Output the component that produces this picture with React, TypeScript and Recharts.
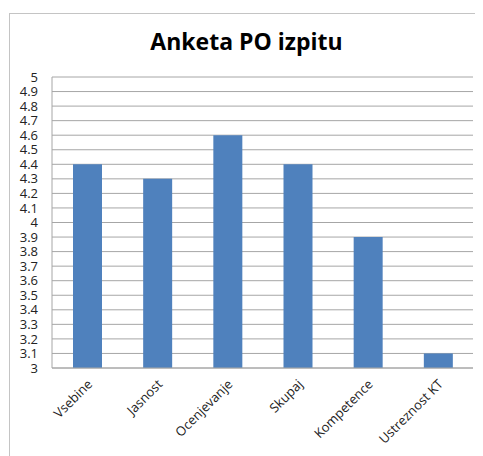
import React from "react";
import { BarChart, Bar, XAxis, YAxis, CartesianGrid } from "recharts";

const categories = ["Vsebine", "Jasnost", "Ocenjevanje", "Skupaj", "Kompetence", "Ustreznost KT"];
const scores = [4.4, 4.3, 4.6, 4.4, 3.9, 3.1];
const yTicks = [3, 3.1, 3.2, 3.3, 3.4, 3.5, 3.6, 3.7, 3.8, 3.9, 4, 4.1, 4.2, 4.3, 4.4, 4.5, 4.6, 4.7, 4.8, 4.9, 5];

const data = categories.map((name, i) => ({ name, score: scores[i] }));

const FONT = "'Open Sans', sans-serif";

const AngledTick = (props: any) => {
  const { x, y, payload } = props;
  const ax = x + 6;
  const ay = y + 9;
  return (
    <text
      x={ax}
      y={ay}
      transform={`rotate(-45, ${ax}, ${ay})`}
      textAnchor="end"
      fontSize={13}
      fontFamily={FONT}
      fill="#222"
    >
      {payload.value}
    </text>
  );
};

export default function App() {
  return (
    <div
      style={{
        position: "relative",
        marginLeft: 1,
        marginTop: 5,
        width: 473,
        height: 442,
        borderTop: "1px solid #c4c4c4",
        borderLeft: "1px solid #c4c4c4",
        overflow: "hidden",
      }}
    >
      <div
        style={{
          position: "absolute",
          top: 14,
          left: 0,
          width: 473,
          textAlign: "center",
          fontFamily: FONT,
          fontWeight: 700,
          fontSize: 23,
          lineHeight: "26px",
          color: "#000",
        }}
      >
        Anketa PO izpitu
      </div>
      <BarChart
        width={473}
        height={442}
        data={data}
        margin={{ top: 63, right: 10, left: 10, bottom: 8 }}
      >
        <CartesianGrid vertical={false} stroke="#a6a6a6" />
        <XAxis
          dataKey="name"
          interval={0}
          height={80}
          tickLine={false}
          axisLine={{ stroke: "#a6a6a6" }}
          tick={<AngledTick />}
        />
        <YAxis
          type="number"
          domain={[3, 5]}
          ticks={yTicks}
          interval={0}
          width={32}
          tickLine={false}
          tickMargin={8}
          axisLine={{ stroke: "#a6a6a6" }}
          tick={{ fontSize: 13, fontFamily: FONT, fill: "#222" }}
        />
        <Bar dataKey="score" fill="#4f81bd" barSize={29} isAnimationActive={false} />
      </BarChart>
    </div>
  );
}
